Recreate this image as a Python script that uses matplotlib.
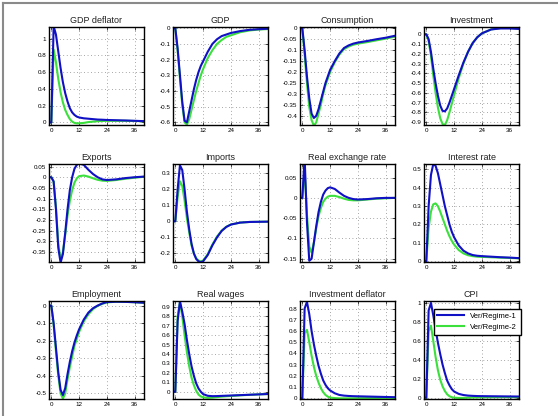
import numpy as np
import matplotlib.pyplot as plt
from matplotlib.lines import Line2D
from matplotlib.ticker import FuncFormatter

plt.rcParams['font.family'] = ['Liberation Sans', 'DejaVu Sans']
plt.rcParams['axes.unicode_minus'] = False

# periods (denser near the impact)
x = [-1, 0, 1, 2, 3, 4, 5, 6, 7, 8, 9, 10, 11, 12, 14, 16, 18, 20, 22, 24, 28, 32, 36, 40]

titles = ['GDP deflator', 'GDP', 'Consumption', 'Investment',
          'Exports', 'Imports', 'Real exchange rate', 'Interest rate',
          'Employment', 'Real wages', 'Investment deflator', 'CPI']

# Ver/Regime-1 (blue)
gdp_defl_1 = [0, 0, 1.15, 1.05, 0.85, 0.65, 0.48, 0.35, 0.25, 0.17, 0.12, 0.09, 0.07, 0.06, 0.05, 0.045, 0.04, 0.035, 0.033, 0.03, 0.027, 0.024, 0.02, 0.016]
gdp_1 = [0, 0, -0.13, -0.3, -0.47, -0.59, -0.6, -0.53, -0.46, -0.39, -0.33, -0.28, -0.24, -0.21, -0.15, -0.1, -0.07, -0.05, -0.04, -0.03, -0.018, -0.01, -0.006, -0.003]
cons_1 = [0, 0, -0.1, -0.22, -0.32, -0.39, -0.41, -0.4, -0.37, -0.33, -0.29, -0.25, -0.22, -0.19, -0.15, -0.115, -0.09, -0.078, -0.07, -0.065, -0.058, -0.05, -0.043, -0.034]
inv_1 = [0, 0, -0.05, -0.18, -0.35, -0.5, -0.63, -0.73, -0.785, -0.79, -0.76, -0.7, -0.63, -0.56, -0.42, -0.29, -0.18, -0.09, -0.03, 0.01, 0.05, 0.06, 0.06, 0.055]
exp_1 = [0, 0, -0.02, -0.15, -0.33, -0.4, -0.36, -0.26, -0.15, -0.06, 0.0, 0.04, 0.058, 0.065, 0.058, 0.035, 0.015, 0.0, -0.01, -0.013, -0.01, -0.004, 0.0, 0.003]
imp_1 = [0, 0, 0.2, 0.35, 0.32, 0.2, 0.06, -0.05, -0.14, -0.2, -0.235, -0.25, -0.255, -0.25, -0.21, -0.15, -0.1, -0.06, -0.035, -0.02, -0.008, -0.004, -0.003, -0.002]
rer_1 = [0, 0, 0.1, -0.06, -0.155, -0.15, -0.11, -0.07, -0.035, -0.01, 0.008, 0.018, 0.024, 0.026, 0.022, 0.013, 0.005, 0.0, -0.003, -0.004, -0.003, -0.001, 0.0, 0.0]
rate_1 = [0, 0, 0.3, 0.47, 0.53, 0.52, 0.48, 0.42, 0.36, 0.3, 0.25, 0.2, 0.16, 0.13, 0.085, 0.057, 0.042, 0.033, 0.029, 0.027, 0.024, 0.021, 0.019, 0.016]
emp_1 = [0, 0, -0.1, -0.24, -0.38, -0.48, -0.51, -0.47, -0.39, -0.32, -0.26, -0.21, -0.17, -0.135, -0.08, -0.04, -0.015, 0.0, 0.012, 0.02, 0.022, 0.021, 0.019, 0.016]
wage_1 = [0, 0, 0.75, 0.96, 0.85, 0.72, 0.55, 0.4, 0.27, 0.17, 0.09, 0.035, 0.0, -0.025, -0.043, -0.047, -0.046, -0.044, -0.042, -0.04, -0.036, -0.032, -0.028, -0.024]
idefl_1 = [0, 0, 0.8, 0.86, 0.75, 0.6, 0.48, 0.38, 0.29, 0.22, 0.16, 0.12, 0.09, 0.07, 0.045, 0.03, 0.024, 0.021, 0.019, 0.018, 0.016, 0.014, 0.012, 0.01]
cpi_1 = [0, 0, 0.92, 1.0, 0.87, 0.72, 0.58, 0.46, 0.35, 0.26, 0.18, 0.13, 0.09, 0.065, 0.04, 0.028, 0.022, 0.019, 0.017, 0.016, 0.015, 0.014, 0.013, 0.012]

# Ver/Regime-2 (green)
gdp_defl_2 = [0, 0, 0.87, 0.72, 0.52, 0.36, 0.24, 0.15, 0.09, 0.04, 0.01, -0.005, -0.01, -0.01, -0.005, 0.005, 0.01, 0.015, 0.018, 0.02, 0.02, 0.02, 0.018, 0.015]
gdp_2 = [0, 0, -0.14, -0.32, -0.49, -0.6, -0.615, -0.58, -0.52, -0.46, -0.4, -0.35, -0.3, -0.26, -0.19, -0.14, -0.1, -0.075, -0.055, -0.045, -0.025, -0.014, -0.008, -0.005]
cons_2 = [0, 0, -0.12, -0.25, -0.36, -0.42, -0.445, -0.43, -0.39, -0.35, -0.3, -0.26, -0.23, -0.2, -0.155, -0.12, -0.095, -0.083, -0.075, -0.07, -0.063, -0.055, -0.047, -0.038]
inv_2 = [0, 0, -0.07, -0.22, -0.42, -0.6, -0.75, -0.86, -0.92, -0.93, -0.88, -0.8, -0.71, -0.62, -0.45, -0.3, -0.18, -0.09, -0.03, 0.01, 0.05, 0.065, 0.065, 0.06]
exp_2 = [0, 0, -0.02, -0.14, -0.31, -0.385, -0.35, -0.27, -0.18, -0.11, -0.06, -0.025, -0.005, 0.005, 0.008, 0.003, -0.005, -0.012, -0.016, -0.017, -0.013, -0.007, -0.002, 0.002]
imp_2 = [0, 0, 0.15, 0.25, 0.22, 0.13, 0.02, -0.07, -0.15, -0.2, -0.23, -0.245, -0.25, -0.245, -0.205, -0.145, -0.095, -0.058, -0.034, -0.02, -0.008, -0.004, -0.003, -0.002]
rer_2 = [0, 0, 0.07, -0.04, -0.12, -0.135, -0.11, -0.075, -0.045, -0.025, -0.01, -0.002, 0.003, 0.005, 0.005, 0.002, -0.002, -0.005, -0.006, -0.006, -0.004, -0.002, -0.001, 0.0]
rate_2 = [0, 0, 0.18, 0.27, 0.31, 0.315, 0.3, 0.27, 0.235, 0.2, 0.165, 0.135, 0.11, 0.09, 0.06, 0.042, 0.032, 0.027, 0.024, 0.023, 0.021, 0.019, 0.017, 0.015]
emp_2 = [0, 0, -0.11, -0.26, -0.4, -0.5, -0.53, -0.5, -0.42, -0.35, -0.29, -0.23, -0.19, -0.15, -0.09, -0.05, -0.02, -0.002, 0.01, 0.018, 0.022, 0.021, 0.019, 0.016]
wage_2 = [0, 0, 0.8, 0.95, 0.8, 0.6, 0.42, 0.27, 0.15, 0.07, 0.01, -0.03, -0.05, -0.06, -0.065, -0.062, -0.057, -0.052, -0.048, -0.045, -0.038, -0.033, -0.028, -0.024]
idefl_2 = [0, 0, 0.58, 0.61, 0.5, 0.38, 0.28, 0.2, 0.14, 0.09, 0.055, 0.03, 0.015, 0.007, 0.002, 0.0, 0.0, 0.0, 0.0, 0.001, 0.002, 0.003, 0.004, 0.004]
cpi_2 = [0, 0, 0.7, 0.76, 0.6, 0.43, 0.29, 0.19, 0.12, 0.07, 0.035, 0.015, 0.005, 0.0, -0.003, -0.003, 0.0, 0.002, 0.003, 0.004, 0.005, 0.006, 0.006, 0.006]

regime1 = [gdp_defl_1, gdp_1, cons_1, inv_1, exp_1, imp_1, rer_1, rate_1, emp_1, wage_1, idefl_1, cpi_1]
regime2 = [gdp_defl_2, gdp_2, cons_2, inv_2, exp_2, imp_2, rer_2, rate_2, emp_2, wage_2, idefl_2, cpi_2]

# y limits and tick steps as in the original panels
ylims = [(-0.03, 1.14), (-0.617, 0.008), (-0.442, 0.006), (-0.93, 0.075),
         (-0.397, 0.062), (-0.254, 0.358), (-0.158, 0.0835), (-0.005, 0.53),
         (-0.532, 0.026), (-0.077, 0.963), (-0.006, 0.867), (-0.014, 1.02)]
ysteps = [0.2, 0.1, 0.05, 0.1, 0.05, 0.1, 0.05, 0.1, 0.1, 0.1, 0.1, 0.2]

blue = '#1010c4'
green = '#3ce03c'

fig = plt.figure(figsize=(5.58, 4.16), dpi=100)
W, H = 558.0, 416.0
lefts = [49, 173, 300, 424]
tops = [27, 164, 301]
aw, ah = 95, 98

for k in range(12):
    r, c = divmod(k, 4)
    ax = fig.add_axes([lefts[c] / W, 1 - (tops[r] + ah) / H, aw / W, ah / H])
    l2, = ax.plot(x, regime2[k], color=green, lw=1.5, label='Ver/Regime-2')
    l1, = ax.plot(x, regime1[k], color=blue, lw=1.5, label='Ver/Regime-1')
    ax.set_xlim(-1, 40)
    ax.set_ylim(*ylims[k])
    ax.set_xticks([0, 12, 24, 36])
    st = ysteps[k]
    lo, hi = ylims[k]
    ticks = np.arange(np.ceil(lo / st - 1e-6), np.floor(hi / st + 1e-6) + 1) * st
    ax.set_yticks(np.round(ticks, 3))
    ax.yaxis.set_major_formatter(FuncFormatter(lambda v, p: ('%g' % round(v, 3)) if abs(v) > 1e-9 else '0'))
    ax.tick_params(direction='in', length=2, width=0.5, labelsize=4.5, pad=2,
                   top=True, right=True)
    ax.grid(True, linestyle=(0, (1, 4)), color='#555555', lw=0.5)
    for sp in ax.spines.values():
        sp.set_linewidth(1.0)
    ax.set_title(titles[k], fontsize=6.5, pad=3, color='#222222')
    if k == 11:
        ax.legend(handles=[l1, l2], loc='upper right', fontsize=5.5, fancybox=False,
                  edgecolor='black', framealpha=1, borderpad=0.5, handlelength=3.5,
                  borderaxespad=0, bbox_to_anchor=(1.02, 0.92))

# grey window frame on top and left
fig.add_artist(Line2D([3 / W, 1], [1 - 3 / H, 1 - 3 / H], color='#8a8a8a', lw=1.5))
fig.add_artist(Line2D([3 / W, 3 / W], [0, 1 - 3 / H], color='#8a8a8a', lw=1.5))

fig.savefig('out.png', dpi=100)
